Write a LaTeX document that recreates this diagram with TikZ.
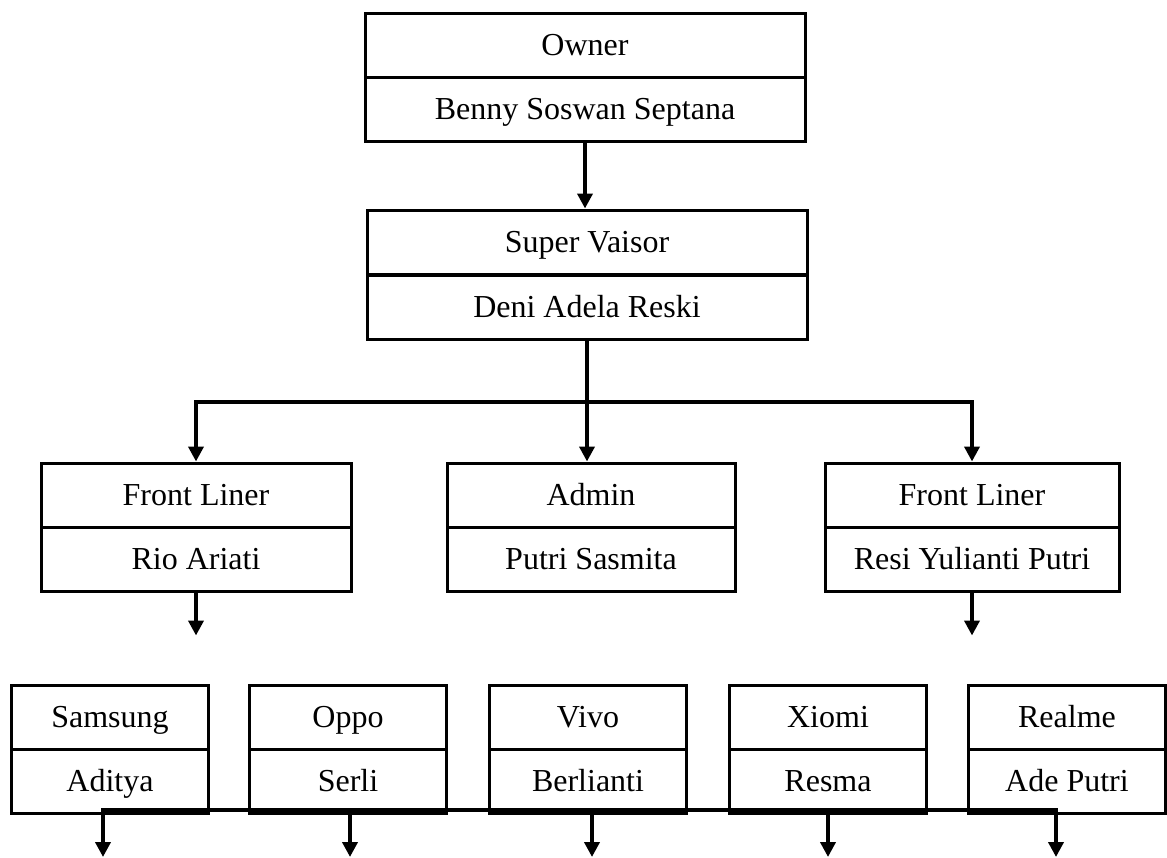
\documentclass[tikz,border=0pt]{standalone}
\usepackage{fontspec}
\setmainfont{Liberation Serif}
\usetikzlibrary{arrows.meta}
\tikzset{
  cell/.style={draw, line width=3pt, minimum height=64pt, inner sep=0pt, text height=25pt, text depth=5pt,
    font=\fontsize{32}{38}\selectfont},
  conn/.style={line width=4pt},
  arr/.style={conn, -{Triangle[width=15pt,length=15pt]}},
}
\begin{document}
\begin{tikzpicture}[x=1pt,y=-1pt]
  \useasboundingbox (0,0) rectangle (1167,857);
  % owner and super vaisor
  \node[cell, minimum width=440pt] (owner-t) at (585,45) {Owner};
  \node[cell, minimum width=440pt] (owner-b) at (585,109) {Benny Soswan Septana};
  \node[cell, minimum width=440pt] (sv-t) at (587,242) {Super Vaisor};
  \node[cell, minimum width=440pt] (sv-b) at (587,307) {Deni Adela Reski};
  \draw[arr] (owner-b.south) -- (owner-b.south |- sv-t.north);

  % second level
  \node[cell, minimum width=310pt] (fl1-t) at (196,495) {Front Liner};
  \node[cell, minimum width=310pt] (fl1-b) at (196,559) {Rio Ariati};
  \node[cell, minimum width=288pt] (admin-t) at (591,495) {Admin};
  \node[cell, minimum width=288pt] (admin-b) at (591,559) {Putri Sasmita};
  \node[cell, minimum width=294pt] (fl2-t) at (972,495) {Front Liner};
  \node[cell, minimum width=294pt] (fl2-b) at (972,559) {Resi Yulianti Putri};

  \coordinate (bus) at (587,402);
  \draw[conn] (sv-b.south) -- (bus);
  \draw[conn] ([xshift=-2pt]fl1-t.north |- bus) -- ([xshift=2pt]fl2-t.north |- bus);
  \draw[arr] (fl1-t.north |- bus) -- (fl1-t.north);
  \draw[arr] (bus) -- (bus |- admin-t.north);
  \draw[arr] (fl2-t.north |- bus) -- (fl2-t.north);

  \coordinate (fl1-end) at ([yshift=-43pt]fl1-b.south);
  \coordinate (fl2-end) at ([yshift=-43pt]fl2-b.south);
  \draw[arr] (fl1-b.south) -- (fl1-end);
  \draw[arr] (fl2-b.south) -- (fl2-end);

  % handphone brands
  \foreach \x/\brand/\who/\ax [count=\i] in {110/Samsung/Aditya/103, 348/Oppo/Serli/350,
      588/Vivo/Berlianti/592, 828/Xiomi/Resma/828, 1067/Realme/Ade Putri/1056} {
    \node[cell, minimum width=197pt] (hp\i-t) at (\x,717) {\brand};
    \node[cell, minimum width=197pt] (hp\i-b) at (\x,781) {\who};
    \coordinate (hp\i-in) at (\ax,810); % on the line
    \coordinate (hp\i-out) at (\ax,857);
  }
  \draw[conn] ([xshift=-2pt]hp1-in) -- ([xshift=2pt]hp5-in);
  \foreach \i in {1,...,5}
    \draw[arr] (hp\i-in) -- (hp\i-out);
\end{tikzpicture}
\end{document}
